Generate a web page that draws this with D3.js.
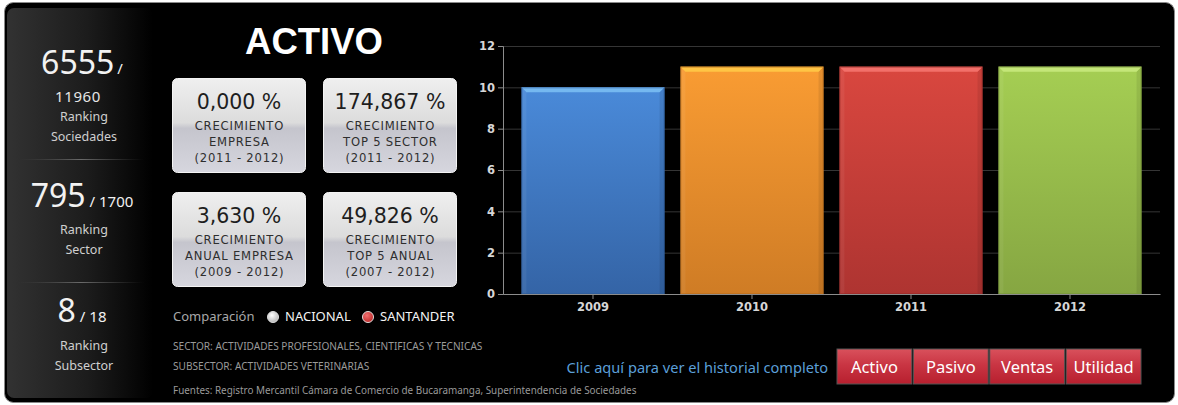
<!DOCTYPE html>
<html>
<head>
<meta charset="utf-8">
<script src="https://cdn.jsdelivr.net/npm/d3@7"></script>
<style>
  html, body { margin: 0; padding: 0; background: #fff; }
  svg { display: block; }
</style>
</head>
<body>
<svg id="board" width="1178" height="405"></svg>
<script>
// ---- data ----
const years = ["2009", "2010", "2011", "2012"];
const activoValues = [10, 11, 11, 11];
const yTickValues = [0, 2, 4, 6, 8, 10, 12];

const rankPositions = ["6555", "795", "8"];
const rankTotals = ["11960", "1700", "18"];
const rankNames = [["Ranking", "Sociedades"], ["Ranking", "Sector"], ["Ranking", "Subsector"]];

const growthValues = ["0,000 %", "174,867 %", "3,630 %", "49,826 %"];
const growthLabels = [
  ["CRECIMIENTO", "EMPRESA", "(2011 - 2012)"],
  ["CRECIMIENTO", "TOP 5 SECTOR", "(2011 - 2012)"],
  ["CRECIMIENTO", "ANUAL EMPRESA", "(2009 - 2012)"],
  ["CRECIMIENTO", "TOP 5 ANUAL", "(2007 - 2012)"]
];

const comparisonOptions = ["NACIONAL", "SANTANDER"];
const infoLines = [
  "SECTOR: ACTIVIDADES PROFESIONALES, CIENTIFICAS Y TECNICAS",
  "SUBSECTOR: ACTIVIDADES VETERINARIAS",
  "Fuentes: Registro Mercantil Cámara de Comercio de Bucaramanga, Superintendencia de Sociedades"
];
const historyButtons = ["Activo", "Pasivo", "Ventas", "Utilidad"];

// ---- styles ----
const barPalette = [
  { top: "#4a8ad9", bottom: "#3464a6", bevel: "#75b8f0", edge: "#2d5a96" },
  { top: "#f99c33", bottom: "#cf7c25", bevel: "#ffc545", edge: "#b86c1c" },
  { top: "#d9473f", bottom: "#ae3431", bevel: "#f2706a", edge: "#962a28" },
  { top: "#a5ce53", bottom: "#86a642", bevel: "#c4e679", edge: "#76943a" }
];
const sansUI = "'Noto Sans', 'Open Sans', sans-serif";
const sansWide = "'DejaVu Sans', Verdana, sans-serif";

const svg = d3.select("#board");
const defs = svg.append("defs");

// outer frame
svg.append("rect")
  .attr("x", 4.5).attr("y", 2.5).attr("width", 1170).attr("height", 400)
  .attr("rx", 9).attr("fill", "#000").attr("stroke", "#8a8a8a").attr("stroke-width", 1);

// ---- ranking side panel ----
const panelGrad = defs.append("linearGradient").attr("id", "panelGrad")
  .attr("x1", 0).attr("x2", 1).attr("y1", 0).attr("y2", 0);
panelGrad.append("stop").attr("offset", "0%").attr("stop-color", "#323232");
panelGrad.append("stop").attr("offset", "55%").attr("stop-color", "#1c1c1c");
panelGrad.append("stop").attr("offset", "100%").attr("stop-color", "#000");

svg.append("rect")
  .attr("x", 7).attr("y", 8).attr("width", 146).attr("height", 390)
  .attr("rx", 7).attr("fill", "url(#panelGrad)");

const sepGrad = defs.append("linearGradient").attr("id", "sepGrad")
  .attr("x1", 0).attr("x2", 1).attr("y1", 0).attr("y2", 0);
sepGrad.append("stop").attr("offset", "0%").attr("stop-color", "#444").attr("stop-opacity", 0);
sepGrad.append("stop").attr("offset", "50%").attr("stop-color", "#6a6a6a");
sepGrad.append("stop").attr("offset", "100%").attr("stop-color", "#444").attr("stop-opacity", 0);

const panelCx = 82;
const rankBlocks = [
  { big: 74, total: 102, wrap: true, names: [121, 141] },
  { big: 207, total: null, wrap: false, names: [234, 254] },
  { big: 322, total: null, wrap: false, names: [350, 370] }
];
const separators = [159, 282];

separators.forEach(y => {
  svg.append("rect").attr("x", 18).attr("y", y).attr("width", 126).attr("height", 1)
    .attr("fill", "url(#sepGrad)");
});

rankPositions.forEach((pos, i) => {
  const b = rankBlocks[i];
  const t = svg.append("text")
    .attr("x", panelCx).attr("y", b.big)
    .attr("text-anchor", "middle")
    .attr("font-family", sansUI).attr("fill", "#f2f2f2");
  t.append("tspan").attr("font-size", 32).text(pos);
  if (b.wrap) {
    t.append("tspan").attr("font-size", 15).attr("dx", 3).text("/");
    svg.append("text").attr("x", 78).attr("y", b.total)
      .attr("text-anchor", "middle").attr("font-family", sansUI)
      .attr("font-size", 15).attr("letter-spacing", 0.6).attr("fill", "#e6e6e6")
      .text(rankTotals[i]);
  } else {
    t.append("tspan").attr("font-size", 15).attr("dx", 4).text("/ " + rankTotals[i]);
  }
  rankNames[i].forEach((n, j) => {
    svg.append("text").attr("x", 84).attr("y", b.names[j])
      .attr("text-anchor", "middle").attr("font-family", sansUI)
      .attr("font-size", 12.5).attr("fill", "#cfcfcf").text(n);
  });
});

// ---- title ----
svg.append("text").attr("x", 314).attr("y", 54)
  .attr("text-anchor", "middle")
  .attr("font-family", "'Liberation Sans', Arial, sans-serif")
  .attr("font-weight", "bold").attr("font-size", 36.5).attr("fill", "#fff")
  .text("ACTIVO");

// ---- growth cards ----
const cardGrad = defs.append("linearGradient").attr("id", "cardGrad")
  .attr("x1", 0).attr("x2", 0).attr("y1", 0).attr("y2", 1);
[["0%", "#efefef"], ["47%", "#dcdcdc"], ["53%", "#c5c5cd"], ["100%", "#d6d6de"]]
  .forEach(([o, c]) => cardGrad.append("stop").attr("offset", o).attr("stop-color", c));

const cardW = 134, cardH = 95;
const cardX0 = 172, cardY0 = 78, cardDX = 151, cardDY = 114;

growthValues.forEach((val, i) => {
  const cx = cardX0 + (i % 2) * cardDX;
  const cy = cardY0 + Math.floor(i / 2) * cardDY;
  const g = svg.append("g").attr("transform", `translate(${cx},${cy})`);
  g.append("rect").attr("x", 0.5).attr("y", 0.5).attr("width", cardW - 1).attr("height", cardH - 1)
    .attr("rx", 5).attr("fill", "url(#cardGrad)").attr("stroke", "#f4f4f4").attr("stroke-width", 1);
  g.append("text").attr("x", cardW / 2).attr("y", 31)
    .attr("text-anchor", "middle").attr("font-family", sansWide)
    .attr("font-size", 20.5).attr("fill", "#1e1e1e").text(val);
  growthLabels[i].forEach((lab, j) => {
    g.append("text").attr("x", cardW / 2 + 0.4).attr("y", 52 + j * 16)
      .attr("text-anchor", "middle").attr("font-family", sansWide)
      .attr("font-size", 11.6).attr("letter-spacing", 0.8).attr("fill", "#2e2e2e")
      .text(lab);
  });
});

// ---- comparison selector ----
svg.append("text").attr("x", 173).attr("y", 321)
  .attr("font-family", sansUI).attr("font-size", 13).attr("fill", "#a8a8a8")
  .text("Comparación");

const radioGradW = defs.append("radialGradient").attr("id", "radioW")
  .attr("cx", "40%").attr("cy", "35%").attr("r", "65%");
radioGradW.append("stop").attr("offset", "0%").attr("stop-color", "#ffffff");
radioGradW.append("stop").attr("offset", "100%").attr("stop-color", "#b8b8b8");
const radioGradR = defs.append("radialGradient").attr("id", "radioR")
  .attr("cx", "40%").attr("cy", "35%").attr("r", "65%");
radioGradR.append("stop").attr("offset", "0%").attr("stop-color", "#f07070");
radioGradR.append("stop").attr("offset", "100%").attr("stop-color", "#c02a2a");

const radioX = [273, 368];
comparisonOptions.forEach((opt, i) => {
  svg.append("circle").attr("cx", radioX[i]).attr("cy", 317).attr("r", 5.5)
    .attr("fill", i === 0 ? "url(#radioW)" : "url(#radioR)")
    .attr("stroke", "#ddd").attr("stroke-width", 1);
  svg.append("text").attr("x", radioX[i] + 12).attr("y", 321)
    .attr("font-family", sansUI).attr("font-size", 13).attr("fill", "#f4f4f4")
    .text(opt);
});

const infoY = [350, 370, 394];
infoLines.forEach((line, i) => {
  svg.append("text").attr("x", 173).attr("y", infoY[i])
    .attr("font-family", sansUI).attr("font-size", i < 2 ? 10.1 : 9.9)
    .attr("fill", "#9a9a9a")
    .text(line);
});

// ---- history link + buttons ----
svg.append("text").attr("x", 828).attr("y", 373)
  .attr("text-anchor", "end").attr("font-family", sansUI).attr("font-size", 14.6)
  .attr("fill", "#5b9fd8").text("Clic aquí para ver el historial completo");

const btnGrad = defs.append("linearGradient").attr("id", "btnGrad")
  .attr("x1", 0).attr("x2", 0).attr("y1", 0).attr("y2", 1);
[["0%", "#d9515c"], ["45%", "#c93543"], ["100%", "#b71f2e"]]
  .forEach(([o, c]) => btnGrad.append("stop").attr("offset", o).attr("stop-color", c));

const btnScale = d3.scaleBand().domain(historyButtons).range([837, 1141]).paddingInner(0.02);
historyButtons.forEach(name => {
  const bx = btnScale(name);
  svg.append("rect").attr("x", bx).attr("y", 349).attr("width", btnScale.bandwidth()).attr("height", 35)
    .attr("fill", "url(#btnGrad)").attr("stroke", "#555").attr("stroke-width", 1);
  svg.append("text").attr("x", bx + btnScale.bandwidth() / 2).attr("y", 373)
    .attr("text-anchor", "middle").attr("font-family", sansUI).attr("font-size", 16.5)
    .attr("fill", "#fff").text(name);
});

// ---- bar chart ----
const x = d3.scaleBand().domain(years).range([503, 1160]).paddingInner(0.1).paddingOuter(0.116);
const y = d3.scaleLinear().domain([0, 12]).range([294, 46]);

// gridlines
svg.append("g").attr("transform", "translate(503,0)")
  .call(d3.axisLeft(y).tickValues(yTickValues).tickSize(-657).tickFormat(""))
  .call(g => g.select(".domain").remove())
  .call(g => g.selectAll("line").attr("stroke", "#353535"));

years.forEach((yr, i) => {
  const c = barPalette[i];
  const gr = defs.append("linearGradient").attr("id", "barGrad" + i)
    .attr("x1", 0).attr("x2", 0).attr("y1", 0).attr("y2", 1);
  gr.append("stop").attr("offset", "0%").attr("stop-color", c.top);
  gr.append("stop").attr("offset", "100%").attr("stop-color", c.bottom);
});

const bev = 5;
const bars = svg.append("g").selectAll("g").data(years).join("g");
bars.each(function (yr, i) {
  const g = d3.select(this);
  const c = barPalette[i];
  const x0 = x(yr), x1 = x0 + x.bandwidth();
  const yTop = y(activoValues[i]), y0 = y(0);
  g.append("rect").attr("x", x0).attr("y", yTop).attr("width", x.bandwidth()).attr("height", y0 - yTop)
    .attr("fill", `url(#barGrad${i})`);
  // side bevels
  g.append("path")
    .attr("d", `M${x0},${yTop}L${x0 + bev},${yTop + bev}L${x0 + bev},${y0}L${x0},${y0}Z`)
    .attr("fill", "#fff").attr("opacity", 0.06);
  g.append("path")
    .attr("d", `M${x1},${yTop}L${x1 - bev},${yTop + bev}L${x1 - bev},${y0}L${x1},${y0}Z`)
    .attr("fill", "#000").attr("opacity", 0.08);
  // top bevel
  g.append("path")
    .attr("d", `M${x0},${yTop}L${x1},${yTop}L${x1 - bev},${yTop + bev}L${x0 + bev},${yTop + bev}Z`)
    .attr("fill", c.bevel);
  g.append("rect").attr("x", x0 + 0.5).attr("y", yTop + 0.5).attr("width", x.bandwidth() - 1).attr("height", y0 - yTop - 1)
    .attr("fill", "none").attr("stroke", c.edge).attr("stroke-width", 1).attr("opacity", 0.6);
});

// axes
const axisColor = "#8c8c8c";
svg.append("g").attr("transform", "translate(503,0)")
  .call(d3.axisLeft(y).tickValues(yTickValues).tickSize(5).tickPadding(3))
  .call(g => g.select(".domain").attr("stroke", axisColor))
  .call(g => g.selectAll("line").attr("stroke", axisColor))
  .call(g => g.selectAll("text").attr("fill", "#d6d6d6")
    .attr("font-family", sansWide).attr("font-weight", "bold").attr("font-size", 11.5));

svg.append("g").attr("transform", "translate(0,294)")
  .call(d3.axisBottom(x).tickSize(5).tickPadding(4).tickSizeOuter(0))
  .call(g => g.select(".domain").attr("stroke", axisColor))
  .call(g => g.selectAll("line").attr("stroke", axisColor))
  .call(g => g.selectAll("text").attr("fill", "#d6d6d6")
    .attr("font-family", sansWide).attr("font-weight", "bold").attr("font-size", 11.5));
</script>
</body>
</html>
